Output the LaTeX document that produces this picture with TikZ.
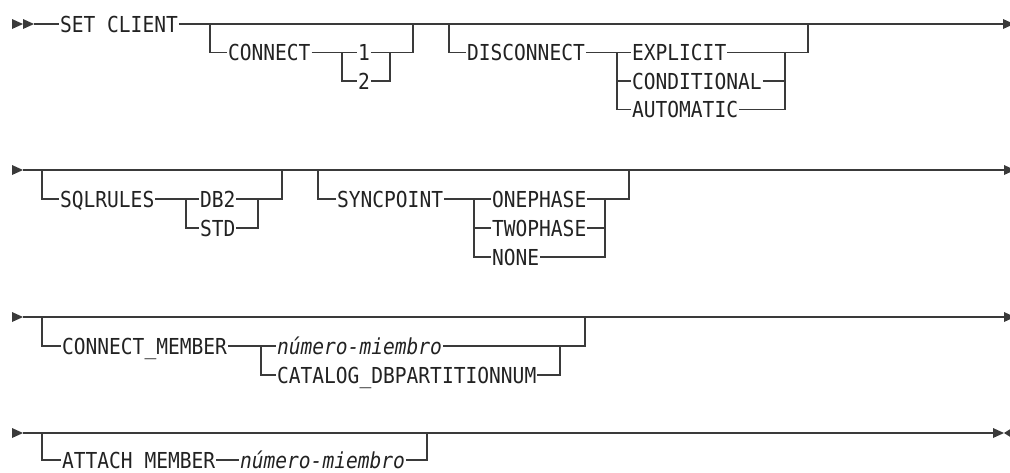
\documentclass[tikz,border=0pt]{standalone}
\usepackage{fontspec}
\newfontfamily\dfont[FakeStretch=0.89]{DejaVu Sans Mono}
\definecolor{lc}{HTML}{3A3A3A}
\definecolor{tc}{HTML}{222222}
\begin{document}
\begin{tikzpicture}[x=1pt,y=-1pt,
  line/.style={draw=lc, line width=1.3pt},
  kw/.style={font=\dfont\fontsize{22}{22}\selectfont, text=tc, inner xsep=0.8pt, inner ysep=0pt,
             text height=16pt, text depth=0pt, anchor=west},
  var/.style={kw, font=\dfont\fontsize{22}{22}\selectfont\itshape},
  tip/.style={fill=lc}]
\useasboundingbox (0,0) rectangle (1010,472);

% ---------------- Row 1 ----------------
\fill[tip] (12,19) -- (23,24) -- (12,29) -- cycle;
\fill[tip] (23,19) -- (34,24) -- (23,29) -- cycle;
\coordinate (s1) at (34,24);
\node[kw] (set) at (59,24) {SET CLIENT};
\coordinate (e1) at (1003,24);
\fill[tip] (1003,19) -- (1014,24) -- (1003,29) -- cycle;
\draw[line] (s1) -- (set.west);
\draw[line] (set.east) -- (e1);

\coordinate (b1) at (210,24);
\node[kw] (connect) at (227,52.5) {CONNECT};
\coordinate (b2) at (342,52.5);
\node[kw] (one) at (357,52.5) {1};
\node[kw] (two) at (357,81) {2};
\coordinate (j1) at (390,52.5);
\coordinate (j1b) at (390,81);
\coordinate (r1) at (413,24);
\draw[line] (b1) |- (connect.west);
\draw[line] (connect.east) -- (b2) -- (one.west);
\draw[line] (b2) |- (two.west);
\draw[line] (one.east) -- (j1);
\draw[line] (two.east) -- (j1b) -- (j1);
\draw[line] (j1) -| (r1);

\coordinate (b3) at (449,24);
\node[kw] (disc) at (466,52.5) {DISCONNECT};
\coordinate (b4) at (617,52.5);
\node[kw] (expl) at (631,52.5) {EXPLICIT};
\node[kw] (cond) at (631,81) {CONDITIONAL};
\node[kw] (auto) at (631,109.5) {AUTOMATIC};
\coordinate (j2) at (785,52.5);
\coordinate (j2b) at (785,81);
\coordinate (j2c) at (785,109.5);
\coordinate (r2) at (808,24);
\draw[line] (b3) |- (disc.west);
\draw[line] (disc.east) -- (b4) -- (expl.west);
\draw[line] (b4) |- (cond.west);
\draw[line] (b4) |- (auto.west);
\draw[line] (expl.east) -- (j2);
\draw[line] (cond.east) -- (j2b);
\draw[line] (auto.east) -- (j2c) -- (j2);
\draw[line] (j2) -| (r2);

% ---------------- Row 2 ----------------
\fill[tip] (12,165) -- (23,170) -- (12,175) -- cycle;
\coordinate (s2) at (23,170);
\coordinate (e2) at (1004,170);
\fill[tip] (1004,165) -- (1015,170) -- (1004,175) -- cycle;
\draw[line] (s2) -- (e2);

\coordinate (b5) at (42,170);
\node[kw] (sql) at (59,199) {SQLRULES};
\coordinate (b6) at (186,199);
\node[kw] (db2) at (199,199) {DB2};
\node[kw] (std) at (199,228) {STD};
\coordinate (j3) at (258,199);
\coordinate (j3b) at (258,228);
\coordinate (r3) at (282,170);
\draw[line] (b5) |- (sql.west);
\draw[line] (sql.east) -- (b6) -- (db2.west);
\draw[line] (b6) |- (std.west);
\draw[line] (db2.east) -- (j3);
\draw[line] (std.east) -- (j3b) -- (j3);
\draw[line] (j3) -| (r3);

\coordinate (b7) at (318,170);
\node[kw] (sync) at (336,199) {SYNCPOINT};
\coordinate (b8) at (474,199);
\node[kw] (onep) at (491,199) {ONEPHASE};
\node[kw] (twop) at (491,228) {TWOPHASE};
\node[kw] (none) at (491,257) {NONE};
\coordinate (j4) at (605,199);
\coordinate (j4b) at (605,228);
\coordinate (j4c) at (605,257);
\coordinate (r4) at (629,170);
\draw[line] (b7) |- (sync.west);
\draw[line] (sync.east) -- (b8) -- (onep.west);
\draw[line] (b8) |- (twop.west);
\draw[line] (b8) |- (none.west);
\draw[line] (onep.east) -- (j4);
\draw[line] (twop.east) -- (j4b);
\draw[line] (none.east) -- (j4c) -- (j4);
\draw[line] (j4) -| (r4);

% ---------------- Row 3 ----------------
\fill[tip] (12,312) -- (23,317) -- (12,322) -- cycle;
\coordinate (s3) at (23,317);
\coordinate (e3) at (1004,317);
\fill[tip] (1004,312) -- (1015,317) -- (1004,322) -- cycle;
\draw[line] (s3) -- (e3);

\coordinate (b9) at (42,317);
\node[kw] (cmem) at (61,346) {CONNECT\_MEMBER};
\coordinate (b10) at (261,346);
\node[var] (num1) at (276,346) {número-miembro};
\node[kw] (cat) at (276,375) {CATALOG\_DBPARTITIONNUM};
\coordinate (j5) at (560,346);
\coordinate (j5b) at (560,375);
\coordinate (r5) at (585,317);
\draw[line] (b9) |- (cmem.west);
\draw[line] (cmem.east) -- (b10) -- (num1.west);
\draw[line] (b10) |- (cat.west);
\draw[line] (num1.east) -- (j5);
\draw[line] (cat.east) -- (j5b) -- (j5);
\draw[line] (j5) -| (r5);

% ---------------- Row 4 ----------------
\fill[tip] (12,428) -- (23,433) -- (12,438) -- cycle;
\coordinate (s4) at (23,433);
\coordinate (e4) at (993,433);
\fill[tip] (993,428) -- (1004,433) -- (993,438) -- cycle;
\fill[tip] (1012,428) -- (1004,433) -- (1012,438) -- cycle;
\draw[line] (s4) -- (e4);

\coordinate (b11) at (42,433);
\node[kw] (att) at (61,460) {ATTACH MEMBER};
\node[var] (num2) at (239,460) {número-miembro};
\coordinate (r6) at (427,433);
\draw[line] (b11) |- (att.west);
\draw[line] (att.east) -- (num2.west);
\draw[line] (num2.east) -| (r6);
\end{tikzpicture}
\end{document}
